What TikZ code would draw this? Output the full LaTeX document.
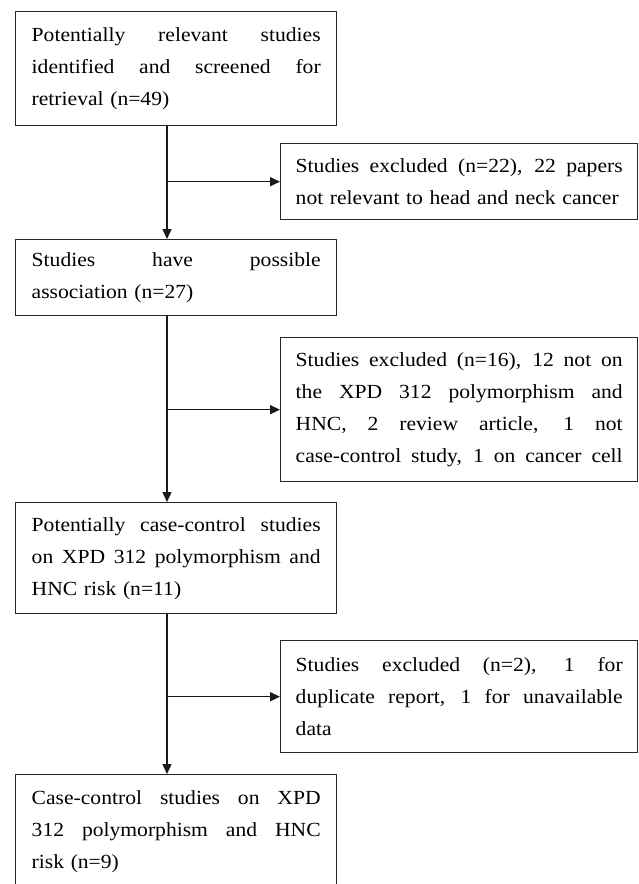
\documentclass[tikz,border=0pt]{standalone}
\usepackage{fontspec}
\setmainfont[FakeStretch=1.08]{Liberation Serif}
\usetikzlibrary{arrows.meta}
\newcommand\jm[1]{\leavevmode\hbox to 289pt{\spaceskip=0.25em plus 1fil\xspaceskip=0.25em plus 1fil\relax #1}}
\newcommand\je[1]{\leavevmode\hbox to 327pt{\spaceskip=0.25em plus 1fil\xspaceskip=0.25em plus 1fil\relax #1}}
\begin{document}
\begin{tikzpicture}[x=1pt,y=-1pt,
  box/.style={draw=black!85, line width=1.4pt, rectangle, align=left,
    font=\fontsize{20}{32}\selectfont, inner ysep=0pt, anchor=north west},
  mainbox/.style={box, text width=289pt, inner xsep=16pt},
  exbox/.style={box, text width=327pt, inner xsep=15pt},
  arr/.style={line width=1.4pt, draw=black!90, -{Triangle[length=10pt,width=9pt]}}]
\clip (0,0) rectangle (638,884);
\fill[white] (0,0) rectangle (638,884);
\coordinate (trunk) at (167,0);

\node[mainbox, minimum height=114pt] (b1) at (15,11)
  {\jm{Potentially relevant studies}\\ \jm{identified and screened for}\\ retrieval (n=49)};
\node[exbox, minimum height=76pt] (e1) at (280,143)
  {\je{Studies excluded (n=22), 22 papers}\\ \mbox{not relevant to head and neck cancer}};
\node[mainbox, minimum height=76pt] (b2) at (15,239)
  {\jm{Studies have possible}\\ association (n=27)};
\node[exbox, minimum height=144pt] (e2) at (280,337)
  {\je{Studies excluded (n=16), 12 not on}\\ \je{the XPD 312 polymorphism and}\\ \je{HNC, 2 review article, 1 not}\\ \je{case-control study, 1 on cancer cell}};
\node[mainbox, minimum height=111pt] (b3) at (15,502)
  {\jm{Potentially case-control studies}\\ \jm{on XPD 312 polymorphism and}\\ HNC risk (n=11)};
\node[exbox, minimum height=112pt] (e3) at (280,640)
  {\je{Studies excluded (n=2), 1 for}\\ \je{duplicate report, 1 for unavailable}\\ data};
\node[mainbox, minimum height=114pt] (b4) at (15,774)
  {\jm{Case-control studies on XPD}\\ \jm{312 polymorphism and HNC}\\ risk (n=9)};

\draw[arr] (b1.south -| trunk) -- (b2.north -| trunk);
\draw[arr] (b2.south -| trunk) -- (b3.north -| trunk);
\draw[arr] (b3.south -| trunk) -- (b4.north -| trunk);
\draw[arr] (e1.west -| trunk) -- (e1.west);
\draw[arr] (e2.west -| trunk) -- (e2.west);
\draw[arr] (e3.west -| trunk) -- (e3.west);
\end{tikzpicture}
\end{document}
